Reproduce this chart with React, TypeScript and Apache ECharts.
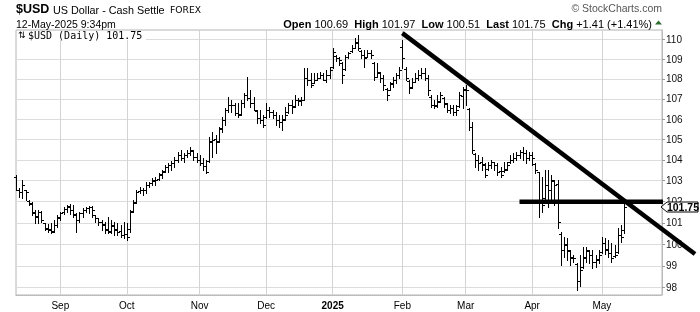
import React, { useEffect, useRef } from "react";
import * as echarts from "echarts";

// ---------- data ----------
const firstDate = "2024-08-13";
const marketHolidays = ["2024-12-25", "2025-01-01"];
const emptySlotsAfterLast = 12;
const monthLabels = ["2025", "Feb", "Mar", "Apr", "May", "Jun", "Jul", "Aug", "Sep", "Oct", "Nov", "Dec"];
const yTicks = [98, 99, 100, 101, 102, 103, 104, 105, 106, 107, 108, 109, 110];
const yMin = 97.67;
const yMax = 110.48;

const symbol = "$USD";
const symbolName = "US Dollar - Cash Settle";
const exchange = "FOREX";
const stamp = "12-May-2025 9:34pm";
const legendLabel = "$USD (Daily)";
const copyright = "\u00A9 StockCharts.com";

const open = [
  103.20, 102.55, 102.45, 102.55, 102.05, 101.95, 101.50, 101.30, 101.50, 101.00,
  100.75, 100.70, 100.62, 100.90, 101.25, 101.50, 101.65, 101.80, 101.60, 101.40,
  101.15, 101.45, 101.60, 101.70, 101.75, 101.35, 101.22, 101.05, 100.95, 100.70,
  100.60, 100.88, 100.70, 100.60, 100.45, 100.50, 100.70, 101.55, 102.00, 102.50,
  102.55, 102.55, 102.80, 102.90, 103.00, 103.10, 103.30, 103.45, 103.65, 103.75,
  103.85, 104.00, 104.25, 104.10, 104.25, 104.35, 104.45, 104.15, 104.00, 103.85,
  103.70, 103.95, 104.90, 105.00, 104.90, 105.50, 105.95, 106.45, 106.70, 106.70,
  106.30, 106.25, 106.80, 107.20, 107.05, 106.80, 106.40, 106.05, 105.95, 106.10,
  106.45, 106.35, 106.20, 105.95, 105.85, 106.00, 106.35, 106.70, 106.65, 106.95,
  106.90, 106.95, 108.05, 107.95, 107.80, 107.95, 108.05, 108.20, 107.95, 108.20,
  108.60, 109.15, 109.05, 108.80, 108.50, 109.10, 109.40, 109.55, 109.85, 109.40,
  109.20, 109.10, 109.30, 108.80, 108.10, 108.30, 108.05, 107.50, 107.45, 107.75,
  107.95, 108.20, 109.60, 108.50, 107.90, 107.60, 107.85, 108.05, 108.20, 108.30,
  108.05, 107.10, 106.70, 106.65, 106.90, 107.05, 106.75, 106.45, 106.55, 106.35,
  106.65, 107.15, 107.50, 106.50, 105.60, 104.30, 104.00, 103.90, 103.80, 103.55,
  103.75, 103.90, 103.75, 103.45, 103.45, 103.55, 103.90, 104.00, 104.10, 104.25,
  104.40, 104.35, 104.10, 104.25, 103.80, 103.40, 102.10, 102.20, 102.80, 102.55,
  103.00, 102.85, 100.50, 99.75, 100.00, 99.70, 99.40, 99.10, 98.30, 98.95,
  99.40, 99.70, 99.50, 99.20, 99.30, 99.65, 100.05, 99.80, 99.60, 99.45,
  99.65, 100.45, 100.69,
];
const high = [
  103.29, 102.67, 103.05, 102.57, 102.10, 102.00, 101.62, 101.62, 101.57, 101.01,
  100.97, 101.01, 101.15, 101.39, 101.53, 101.77, 101.86, 101.91, 101.86, 101.48,
  101.53, 101.72, 101.77, 101.81, 101.81, 101.39, 101.25, 101.15, 101.06, 101.29,
  101.15, 101.06, 101.01, 100.92, 101.06, 101.01, 101.62, 102.10, 102.57, 102.72,
  102.67, 102.96, 102.96, 103.15, 103.20, 103.39, 103.53, 103.77, 103.87, 103.96,
  104.15, 104.39, 104.49, 104.34, 104.49, 104.63, 104.49, 104.34, 104.25, 104.10,
  104.01, 105.12, 105.36, 105.22, 105.61, 106.10, 106.55, 107.09, 106.94, 106.79,
  106.79, 106.94, 107.29, 108.09, 107.44, 107.09, 106.45, 106.45, 106.20, 106.79,
  106.60, 106.45, 106.35, 106.20, 106.20, 106.60, 106.79, 106.94, 107.19, 107.04,
  107.09, 108.54, 108.54, 108.29, 108.29, 108.29, 108.34, 108.29, 108.44, 108.59,
  109.55, 109.20, 109.10, 108.85, 109.20, 109.35, 109.71, 110.06, 110.22, 109.45,
  109.45, 109.45, 109.45, 108.85, 108.80, 108.34, 108.19, 107.54, 107.84, 108.09,
  108.29, 108.59, 109.96, 108.59, 107.94, 108.04, 108.29, 108.44, 108.54, 108.54,
  108.19, 107.19, 106.94, 107.19, 107.34, 107.09, 106.79, 106.69, 106.69, 106.69,
  107.34, 107.59, 107.69, 106.55, 105.85, 104.34, 104.25, 104.15, 103.87, 103.91,
  104.01, 103.91, 103.87, 103.67, 103.91, 103.91, 104.25, 104.34, 104.39, 104.49,
  104.63, 104.49, 104.39, 104.39, 103.87, 103.44, 103.20, 103.53, 103.53, 103.29,
  103.05, 103.05, 100.59, 100.36, 100.31, 99.75, 99.52, 99.15, 99.52, 99.89,
  99.89, 99.75, 99.75, 99.52, 99.75, 100.36, 100.31, 100.22, 100.08, 99.98,
  100.78, 100.92, 101.97,
];
const low = [
  102.57, 102.24, 102.19, 102.10, 101.86, 101.39, 101.01, 101.01, 101.06, 100.68,
  100.59, 100.54, 100.59, 100.82, 101.15, 101.43, 101.53, 101.43, 101.29, 100.59,
  101.06, 101.29, 101.53, 101.48, 101.29, 101.06, 100.92, 100.68, 100.54, 100.54,
  100.54, 100.45, 100.45, 100.36, 100.31, 100.22, 100.59, 101.53, 101.95, 102.43,
  102.33, 102.43, 102.72, 102.81, 102.81, 103.05, 103.15, 103.44, 103.44, 103.53,
  103.67, 103.91, 104.01, 103.91, 104.15, 104.25, 104.01, 103.91, 103.77, 103.53,
  103.39, 103.91, 104.15, 104.34, 104.88, 105.36, 105.71, 106.35, 106.35, 106.20,
  106.10, 106.20, 106.60, 106.94, 106.60, 106.45, 105.81, 105.81, 105.61, 106.05,
  106.10, 106.05, 105.71, 105.61, 105.46, 105.95, 106.30, 106.30, 106.60, 106.69,
  106.69, 106.94, 107.69, 107.59, 107.79, 107.94, 108.04, 107.94, 107.84, 108.04,
  108.54, 108.90, 108.70, 107.79, 108.44, 109.05, 109.35, 109.55, 109.45, 109.05,
  108.59, 109.10, 109.05, 107.94, 108.09, 107.84, 107.44, 106.94, 107.44, 107.59,
  107.79, 108.04, 108.54, 107.94, 107.29, 107.54, 107.84, 107.94, 108.04, 107.94,
  107.19, 106.60, 106.55, 106.60, 106.84, 106.60, 106.35, 106.30, 106.20, 106.20,
  106.60, 106.55, 106.69, 105.46, 104.34, 103.67, 103.53, 103.53, 103.20, 103.53,
  103.63, 103.53, 103.29, 103.20, 103.44, 103.53, 103.87, 103.91, 104.01, 104.10,
  104.01, 103.87, 104.01, 103.77, 103.39, 101.29, 101.53, 102.10, 101.77, 101.95,
  101.86, 100.78, 99.06, 99.43, 99.29, 99.06, 99.20, 97.92, 98.06, 98.92,
  99.20, 99.15, 98.92, 98.97, 99.15, 99.61, 99.57, 99.43, 99.20, 99.43,
  99.61, 100.13, 100.51,
];
const close = [
  102.57, 102.48, 102.81, 102.48, 101.91, 101.48, 101.34, 101.53, 101.15, 100.73,
  100.68, 100.59, 100.92, 101.29, 101.48, 101.67, 101.77, 101.62, 101.39, 101.15,
  101.48, 101.62, 101.72, 101.77, 101.62, 101.25, 101.06, 100.92, 100.68, 100.59,
  100.87, 100.68, 100.59, 100.45, 100.50, 100.36, 101.53, 101.95, 102.48, 102.57,
  102.57, 102.81, 102.91, 103.05, 103.05, 103.29, 103.44, 103.67, 103.77, 103.87,
  104.01, 104.25, 104.10, 104.25, 104.34, 104.49, 104.15, 104.01, 103.87, 103.72,
  103.44, 104.88, 104.98, 104.88, 105.56, 105.95, 106.45, 106.69, 106.69, 106.30,
  106.20, 106.79, 107.19, 107.04, 106.79, 106.45, 106.05, 105.95, 105.71, 106.45,
  106.35, 106.20, 105.95, 105.85, 105.95, 106.20, 106.69, 106.60, 106.94, 106.94,
  106.94, 108.04, 107.94, 107.69, 107.94, 108.04, 108.19, 107.94, 108.19, 108.44,
  109.35, 109.05, 108.95, 108.19, 109.10, 109.30, 109.55, 109.81, 109.55, 109.20,
  109.05, 109.30, 109.20, 108.09, 108.34, 108.04, 107.69, 107.19, 107.79, 107.94,
  108.19, 108.44, 109.05, 108.04, 107.54, 107.84, 108.04, 108.19, 108.29, 108.04,
  107.44, 106.69, 106.69, 106.84, 107.19, 106.79, 106.45, 106.55, 106.35, 106.45,
  107.19, 107.44, 107.44, 105.61, 104.49, 104.01, 103.87, 103.77, 103.29, 103.77,
  103.91, 103.77, 103.44, 103.29, 103.53, 103.77, 104.01, 104.10, 104.25, 104.39,
  104.34, 104.10, 104.25, 104.10, 103.53, 102.10, 101.86, 102.81, 102.57, 103.05,
  102.81, 101.06, 99.75, 99.98, 99.75, 99.38, 99.38, 98.29, 98.83, 99.38,
  99.75, 99.52, 99.20, 99.29, 99.52, 100.08, 99.75, 99.61, 99.38, 99.52,
  100.45, 100.34, 101.75,
];

// hand-drawn annotation lines (data anchors)
const downTrendFrom = { date: "2025-02-03", value: 110.32 };
const downTrendAtAxisEnd = { value: 100.71 };
const supportFrom = { date: "2025-03-26", value: 102.0 };

// ---------- helpers ----------
function buildDates(start: string, count: number, skip: string[]): string[] {
  const out: string[] = [];
  const d = new Date(start + "T00:00:00Z");
  while (out.length < count) {
    const dow = d.getUTCDay();
    const s = d.toISOString().slice(0, 10);
    if (dow !== 0 && dow !== 6 && skip.indexOf(s) < 0) out.push(s);
    d.setUTCDate(d.getUTCDate() + 1);
  }
  return out;
}

const dates = buildDates(firstDate, close.length + emptySlotsAfterLast, marketHolidays);
const monthStarts = new Set<number>();
dates.forEach((d, i) => {
  if (i > 0 && d.slice(5, 7) !== dates[i - 1].slice(5, 7)) monthStarts.add(i);
});
const ohlcData = close.map((c, i) => [i, open[i], c, low[i], high[i]]);

const FONT = "'Liberation Sans', Arial, sans-serif";

export default function App() {
  const ref = useRef<HTMLDivElement>(null);
  useEffect(() => {
    const chart = echarts.init(ref.current!, null, { renderer: "svg" });
    const renderItem = (params: any, api: any) => {
      const i = api.value(0);
      const o = api.coord([i, api.value(1)]);
      const c = api.coord([i, api.value(2)]);
      const l = api.coord([i, api.value(3)]);
      const h = api.coord([i, api.value(4)]);
      const x = Math.round(h[0]) + 0.5;
      const yo = Math.round(o[1]) + 0.5;
      const yc = Math.round(c[1]) + 0.5;
      const st = { stroke: "#000", lineWidth: 1 };
      return {
        type: "group",
        children: [
          { type: "line", shape: { x1: x, y1: Math.round(h[1]), x2: x, y2: Math.round(l[1]) + 1 }, style: st },
          { type: "line", shape: { x1: x - 2.5, y1: yo, x2: x, y2: yo }, style: st },
          { type: "line", shape: { x1: x, y1: yc, x2: x + 2.5, y2: yc }, style: st },
        ],
      };
    };

    chart.setOption({
      animation: false,
      grid: { left: 16, right: 38, top: 30, bottom: 17, show: true, borderColor: "#b4b4b4", borderWidth: 1, containLabel: false },
      xAxis: {
        type: "category",
        data: dates,
        boundaryGap: false,
        axisLine: { show: true, lineStyle: { color: "#b4b4b4", type: "dotted" } },
        axisTick: { show: false },
        axisLabel: {
          interval: (i: number) => monthStarts.has(i),
          color: "#000",
          fontFamily: FONT,
          fontSize: 10,
          margin: 5,
          formatter: (v: string) => {
            const m = parseInt(v.slice(5, 7), 10) - 1;
            return m === 0 ? "{y|" + monthLabels[0] + "}" : monthLabels[m];
          },
          rich: { y: { fontWeight: "bold", fontFamily: FONT, fontSize: 10, color: "#000" } },
        },
        splitLine: { show: true, interval: (i: number) => monthStarts.has(i), lineStyle: { color: "#d4d4d4", width: 1 } },
      },
      yAxis: {
        type: "log",
        logBase: 10,
        position: "right",
        min: yMin,
        max: yMax,
        axisLine: { show: true, lineStyle: { color: "#b4b4b4", type: "dotted" } },
        axisTick: { show: true, length: 3, customValues: yTicks, lineStyle: { color: "#999" } },
        axisLabel: {
          customValues: yTicks,
          color: "#111",
          fontFamily: FONT,
          fontSize: 10,
          margin: 4,
          formatter: (v: number) => String(Math.round(v)),
        },
        splitLine: { show: true, lineStyle: { color: "#dcdcdc", width: 1 } },
        minorSplitLine: { show: false },
      },
      series: [
        {
          type: "custom",
          renderItem,
          data: ohlcData,
          encode: { x: 0, y: [1, 2, 3, 4] },
          z: 5,
        },
      ],
    });

    const px = (idx: number, v: number) => chart.convertToPixel({ xAxisIndex: 0, yAxisIndex: 0 }, [idx, v]) as number[];
    const lastSlot = dates.length - 1;
    const lastIdx = close.length - 1;

    const d0 = px(dates.indexOf(downTrendFrom.date), downTrendFrom.value);
    const d1 = px(lastSlot, downTrendAtAxisEnd.value);
    const ext = 33 / (d1[0] - d0[0]);
    const d2 = [d1[0] + (d1[0] - d0[0]) * ext, d1[1] + (d1[1] - d0[1]) * ext];
    const s0 = px(dates.indexOf(supportFrom.date), supportFrom.value);
    const s1 = px(lastSlot, supportFrom.value);
    const tag = px(lastIdx, close[lastIdx]);
    const axisX = s1[0];

    const last = close[lastIdx];
    const chg = last - close[lastIdx - 1];
    const pct = (chg / close[lastIdx - 1]) * 100;
    const sign = (n: number) => (n >= 0 ? "+" : "") + n.toFixed(2);
    const ohlcText =
      "{b|Open} " + open[lastIdx].toFixed(2) + "  {b|High} " + high[lastIdx].toFixed(2) +
      "  {b|Low} " + low[lastIdx].toFixed(2) + "  {b|Last} " + last.toFixed(2) +
      "  {b|Chg} " + sign(chg) + " (" + sign(pct) + "%)";

    chart.setOption({
      graphic: [
        { type: "text", x: 16, y: 2.5, style: { text: symbol, fontFamily: FONT, fontWeight: "bold", fontSize: 12.5, fill: "#000" } },
        { type: "text", x: 53, y: 4, style: { text: symbolName, fontFamily: FONT, fontSize: 10.8, fill: "#000" } },
        { type: "text", x: 170, y: 5, style: { text: exchange, fontFamily: "'DejaVu Sans', sans-serif", fontSize: 9.2, fill: "#000" } },
        { type: "text", x: 16, y: 18, style: { text: stamp, fontFamily: FONT, fontSize: 10.5, fill: "#000" } },
        {
          type: "text", x: 652, y: 18,
          style: {
            text: ohlcText, align: "right", textAlign: "right", fontFamily: FONT, fontSize: 11, fill: "#000",
            rich: { b: { fontFamily: FONT, fontWeight: "bold", fontSize: 11, fill: "#000" } },
          },
        },
        { type: "polygon", shape: { points: [[655, 24.5], [662, 24.5], [658.5, 20.5]] }, style: { fill: "#2e6b2e" } },
        { type: "text", x: 662, y: 2, style: { text: copyright, textAlign: "right", align: "right", fontFamily: FONT, fontSize: 10.5, fill: "#555" } },
        { type: "rect", shape: { x: 17, y: 31, width: 129, height: 9 }, style: { fill: "#fff" }, z: 10 },
        { type: "text", x: 18, y: 30, z: 11, style: { text: "\u21C5", fontFamily: "'DejaVu Sans', sans-serif", fontSize: 9, fill: "#000" } },
        { type: "text", x: 28, y: 30, z: 11, style: { text: legendLabel + " " + last.toFixed(2), fontFamily: "'DejaVu Sans Mono', monospace", fontSize: 10, fill: "#000" } },
        { type: "line", z: 20, shape: { x1: s0[0], y1: s0[1], x2: axisX + 1, y2: s1[1] }, style: { stroke: "#000", lineWidth: 4.5 } },
        { type: "line", z: 20, shape: { x1: d0[0], y1: d0[1], x2: d2[0], y2: d2[1] }, style: { stroke: "#000", lineWidth: 4.5 } },
        {
          type: "polygon", z: 21,
          shape: { points: [[axisX - 1, tag[1]], [axisX + 5, tag[1] - 5], [698, tag[1] - 5], [698, tag[1] + 5], [axisX + 5, tag[1] + 5]] },
          style: { fill: "#fff", stroke: "#000", lineWidth: 1 },
        },
        {
          type: "text", z: 22, x: 683, y: tag[1],
          style: { text: last.toFixed(2), textAlign: "center", align: "center", textVerticalAlign: "middle", verticalAlign: "middle", fontFamily: FONT, fontWeight: "bold", fontSize: 10.5, fill: "#000" },
        },
      ],
    });
    return () => chart.dispose();
  }, []);
  return <div ref={ref} style={{ position: "fixed", left: 0, top: 0, width: 700, height: 312 }} />;
}
